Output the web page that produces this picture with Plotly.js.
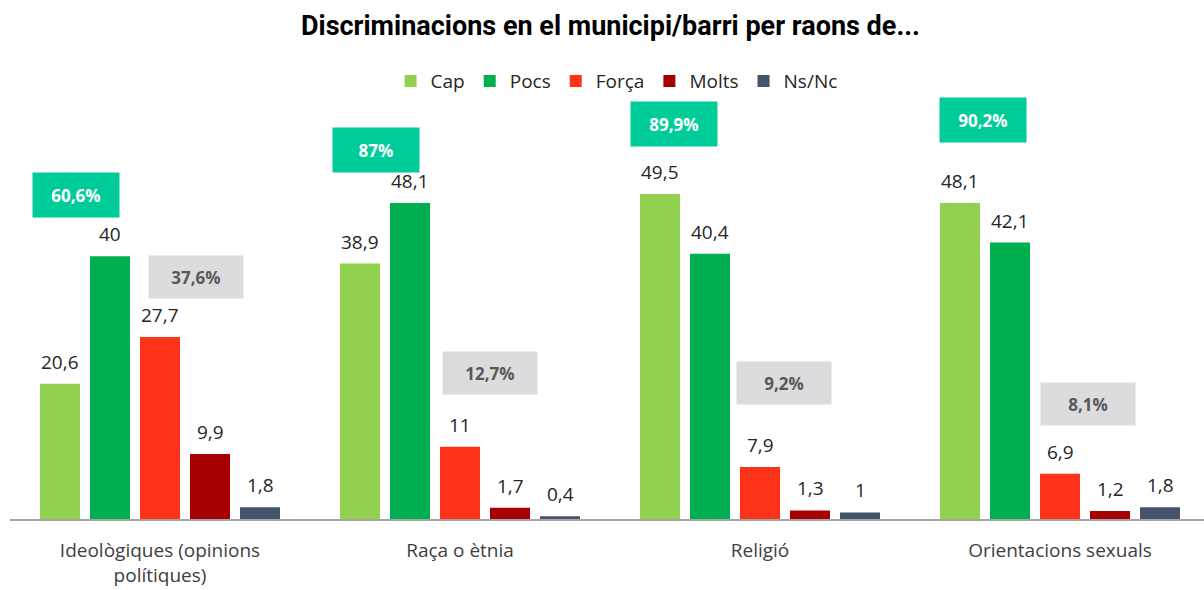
<!DOCTYPE html>
<html>
<head>
<meta charset="utf-8">
<script src="https://cdn.plot.ly/plotly-3.0.1.min.js"></script>
<style>html,body{margin:0;padding:0;background:#fff;}#chart{width:1204px;height:590px;}</style>
</head>
<body>
<div id="chart"></div>
<script>
// ---- data ----
const categories = ['Ideològiques (opinions<br>polítiques)', 'Raça o ètnia', 'Religió', 'Orientacions sexuals'];
const seriesNames = ['Cap', 'Pocs', 'Força', 'Molts', 'Ns/Nc'];
const cap   = [20.6, 38.9, 49.5, 48.1];
const pocs  = [40.0, 48.1, 40.4, 42.1];
const forca = [27.7, 11.0, 7.9, 6.9];
const molts = [9.9, 1.7, 1.3, 1.2];
const nsnc  = [1.8, 0.4, 1.0, 1.8];
const capPocsPct   = [60.6, 87, 89.9, 90.2];
const forcaMoltsPct = [37.6, 12.7, 9.2, 8.1];

// ---- styling ----
const colors = ['#92D050', '#00B050', '#FF3319', '#A80000', '#44546A'];
const FONT = 'Open Sans, sans-serif';
const fmt = v => String(v).replace('.', ',');
const series = [cap, pocs, forca, molts, nsnc];
const idx = categories.map((c, i) => i);

const traces = series.map((vals, s) => ({
  type: 'bar',
  name: seriesNames[s],
  x: idx,
  y: vals,
  marker: {color: colors[s], line: {width: 0}},
  hoverinfo: 'skip'
}));

const annotations = [];
// value labels above bars
series.forEach((vals, s) => {
  vals.forEach((v, i) => {
    annotations.push({
      x: i, y: v, xref: 'x', yref: 'y',
      xshift: (s - 2) * 50, yshift: 22,
      yanchor: 'middle', xanchor: 'center',
      text: fmt(v), showarrow: false,
      font: {family: FONT, size: 19, color: '#262626'}
    });
  });
});
// summary boxes (layout offsets in px)
const greenLift = [61, 53, 70, 83];
const greenDx = [-84, -84, -86, -77];
const grayLift = [60, 74, 84, 70];
const grayDx = [36, 30, 24, 28];
capPocsPct.forEach((p, i) => {
  annotations.push({
    x: i, y: Math.max(cap[i], pocs[i]), xref: 'x', yref: 'y',
    xshift: greenDx[i], yshift: greenLift[i],
    yanchor: 'middle', xanchor: 'center',
    text: '<b>' + fmt(p) + '%</b>', showarrow: false,
    width: 86, height: 44, borderpad: 0, bgcolor: '#00CC99',
    font: {family: FONT, size: 17, color: '#FFFFFF'}
  });
});
forcaMoltsPct.forEach((p, i) => {
  annotations.push({
    x: i, y: Math.max(forca[i], molts[i]), xref: 'x', yref: 'y',
    xshift: grayDx[i], yshift: grayLift[i],
    yanchor: 'middle', xanchor: 'center',
    text: '<b>' + fmt(p) + '%</b>', showarrow: false,
    width: 94, height: 42, borderpad: 0, bgcolor: '#DCDCDE',
    font: {family: FONT, size: 17, color: '#595959'}
  });
});

const layout = {
  width: 1204, height: 590,
  paper_bgcolor: '#ffffff', plot_bgcolor: '#ffffff',
  margin: {l: 10, r: 0, t: 100, b: 71},
  font: {family: FONT, color: '#262626'},
  title: {
    text: '<b>Discriminacions en el municipi/barri per raons de...</b>',
    font: {family: 'Roboto, sans-serif', size: 27, color: '#000000'},
    x: 0.507, xanchor: 'center', y: 1 - 26 / 590, yanchor: 'middle', yref: 'container'
  },
  showlegend: true,
  legend: {
    orientation: 'h', x: 0.508, xanchor: 'center', y: 1.045, yanchor: 'middle',
    font: {family: FONT, size: 19, color: '#262626'},
    itemwidth: 30, traceorder: 'normal'
  },
  barmode: 'group', bargap: 0.1667, bargroupgap: 0.2,
  xaxis: {
    type: 'linear',
    range: [-0.5, 3.48],
    tickmode: 'array', tickvals: idx, ticktext: categories,
    showgrid: false, zeroline: false,
    showline: true, linecolor: '#A6A6A6', linewidth: 1.5,
    ticks: '', ticklabelstandoff: 14,
    tickfont: {family: FONT, size: 19, color: '#404040'}
  },
  yaxis: {
    range: [0, 63.8], visible: false, showgrid: false, zeroline: false
  },
  annotations: annotations
};

Plotly.newPlot('chart', traces, layout, {staticPlot: true, displayModeBar: false});
</script>
</body>
</html>
